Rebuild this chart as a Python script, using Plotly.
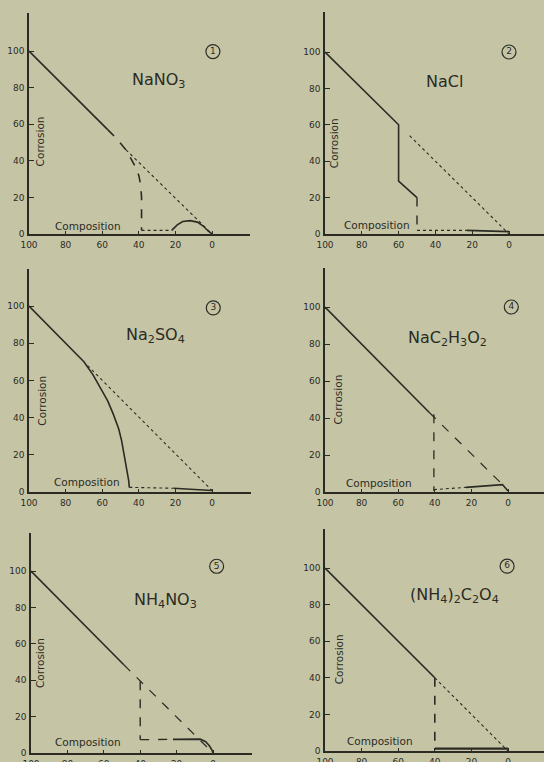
import plotly.graph_objects as go

# ---------------- data ----------------
x_ticks = [100, 80, 60, 40, 20, 0]
y_ticks = [0, 20, 40, 60, 80, 100]
x_tick_labels = ["100", "80", "60", "40", "20", "0"]
y_tick_labels = ["0", "20", "40", "60", "80", "100"]

titles = ["NaNO<sub>3</sub>", "NaCl", "Na<sub>2</sub>SO<sub>4</sub>",
          "NaC<sub>2</sub>H<sub>3</sub>O<sub>2</sub>", "NH<sub>4</sub>NO<sub>3</sub>",
          "(NH<sub>4</sub>)<sub>2</sub>C<sub>2</sub>O<sub>4</sub>"]
numbers = ["1", "2", "3", "4", "5", "6"]
y_title = "Corrosion"
x_title = "Composition"

# Panel 1  NaNO3
p1_solid_x = [100, 57]
p1_solid_y = [100, 57]
p1_curve_x = [57, 52, 47, 44, 42, 40, 39, 38.5, 38.5]
p1_curve_y = [57, 52, 46, 41, 37, 32, 27, 20, 2]
p1_diag_x = [47, 1]
p1_diag_y = [46, 1]
p1_base_x = [38.5, 22]
p1_base_y = [2, 2]
p1_arc_x = [22, 19, 16, 12, 8, 5, 2, 0]
p1_arc_y = [2, 5, 6.8, 7.3, 6.5, 4.5, 1.5, 0]

# Panel 2  NaCl
p2_solid_x = [100, 60, 60, 50]
p2_solid_y = [100, 60, 29, 20]
p2_vert_x = [50, 50]
p2_vert_y = [20, 2]
p2_base_x = [50, 23]
p2_base_y = [2, 2]
p2_tail_x = [23, 0]
p2_tail_y = [2, 1.3]
p2_diag_x = [54, 0]
p2_diag_y = [54, 0]

# Panel 3  Na2SO4
p3_solid_x = [100, 70, 65, 61, 57, 54, 51, 49.4, 47.5, 46.6, 45.5, 45.2]
p3_solid_y = [100, 70, 63, 56, 49, 42, 34, 27.6, 18, 13, 6, 2.5]
p3_diag_x = [68, 0]
p3_diag_y = [68, 0.8]
p3_base_x = [45.2, 21]
p3_base_y = [2.5, 2]
p3_tail_x = [21, 0]
p3_tail_y = [2, 0.8]

# Panel 4  NaC2H3O2
p4_solid_x = [100, 43]
p4_solid_y = [100, 43]
p4_diag_x = [43, 3]
p4_diag_y = [43, 4]
p4_vert_x = [40.5, 40.5]
p4_vert_y = [42, 0.5]
p4_base_x = [40.5, 23]
p4_base_y = [1.3, 2.5]
p4_tail_x = [23, 3, 0]
p4_tail_y = [2.5, 4, 0.5]

# Panel 5  NH4NO3
p5_solid_x = [100, 49]
p5_solid_y = [100, 48.5]
p5_diag_x = [49, 0]
p5_diag_y = [48.5, 0]
p5_vert_x = [40, 40]
p5_vert_y = [39.4, 7.3]
p5_base_x = [40, 22]
p5_base_y = [7.3, 7.5]
p5_tail_x = [22, 7, 4, 2, 0.5, 0]
p5_tail_y = [7.5, 7.6, 6.2, 4, 1.5, 0]

# Panel 6  (NH4)2C2O4
p6_solid_x = [100, 40]
p6_solid_y = [100, 40]
p6_diag_x = [40, 0]
p6_diag_y = [40, 0]
p6_vert_x = [40, 40]
p6_vert_y = [40, 0.5]
p6_base_x = [40, 0]
p6_base_y = [1.3, 1.3]

# ---------------- styling / layout ----------------
W, H = 544, 762
BG = "#c5c5a6"
INK = "#2b2b24"
FONT = "DejaVu Sans"

# per panel pixel geometry: (left px of y-axis, px of x=0, right px, y px of 0, y px of 100, top px)
geom = [
    (29, 212, 250, 234, 51, 13),
    (325, 509, 544, 234, 52, 12),
    (29, 212, 251, 492, 306, 269),
    (325, 508, 544, 492, 307, 268),
    (31, 213, 252, 753, 571, 533),
    (325, 508, 544, 751, 568, 529),
]

title_pos = [(29.5, 84), (35, 84), (31, 84), (33, 83), (26, 84), (29, 85)]
number_pos = [(-0.5, 99.7), (0, 100), (-0.7, 99), (-1.8, 100), (-2, 102.6), (0.5, 101)]
comp_pos = [(68, 4.6), (71.7, 5), (68.5, 5.2), (70.7, 4.8), (68.5, 5.9), (70, 5.3)]
corr_pos = [(94, 50.6), (95, 50), (93, 49), (93.4, 50), (95, 49.5), (92.5, 50)]

fig = go.Figure()

def add_line(i, xs, ys, dash="solid", width=1.6):
    sfx = "" if i == 0 else str(i + 1)
    fig.add_trace(go.Scatter(x=xs, y=ys, mode="lines", xaxis="x" + sfx, yaxis="y" + sfx,
                             line=dict(color=INK, width=width, dash=dash),
                             showlegend=False, hoverinfo="skip"))

# panel 1
add_line(0, p1_solid_x, p1_solid_y)
add_line(0, p1_curve_x, p1_curve_y, "dash", 1.6)
add_line(0, p1_diag_x, p1_diag_y, "dot", 1.1)
add_line(0, p1_base_x, p1_base_y, "dot", 1.1)
add_line(0, p1_arc_x, p1_arc_y)
# panel 2
add_line(1, p2_solid_x, p2_solid_y)
add_line(1, p2_vert_x, p2_vert_y, "dash", 1.4)
add_line(1, p2_base_x, p2_base_y, "dot", 1.1)
add_line(1, p2_tail_x, p2_tail_y)
add_line(1, p2_diag_x, p2_diag_y, "dot", 1.1)
# panel 3
add_line(2, p3_solid_x, p3_solid_y)
add_line(2, p3_diag_x, p3_diag_y, "dot", 1.1)
add_line(2, p3_base_x, p3_base_y, "dot", 1.1)
add_line(2, p3_tail_x, p3_tail_y)
# panel 4
add_line(3, p4_solid_x, p4_solid_y)
add_line(3, p4_diag_x, p4_diag_y, "dash", 1.2)
add_line(3, p4_vert_x, p4_vert_y, "dash", 1.3)
add_line(3, p4_base_x, p4_base_y, "dot", 1.1)
add_line(3, p4_tail_x, p4_tail_y)
# panel 5
add_line(4, p5_solid_x, p5_solid_y)
add_line(4, p5_diag_x, p5_diag_y, "dash", 1.2)
add_line(4, p5_vert_x, p5_vert_y, "dash", 1.4)
add_line(4, p5_base_x, p5_base_y, "dash", 1.3)
add_line(4, p5_tail_x, p5_tail_y)
# panel 6
add_line(5, p6_solid_x, p6_solid_y)
add_line(5, p6_diag_x, p6_diag_y, "dot", 1.1)
add_line(5, p6_vert_x, p6_vert_y, "dash", 1.6)
add_line(5, p6_base_x, p6_base_y, "solid", 2.2)

annotations = []
layout_axes = {}
for i, (lx, zx, rx, zy, hy, ty) in enumerate(geom):
    sfx = "" if i == 0 else str(i + 1)
    sx = (zx - lx) / 100.0
    sy = (zy - hy) / 100.0
    xr = [100, 100 - (rx - lx) / sx]
    yr = [0, (zy - ty) / sy]
    common = dict(showline=True, linecolor=INK, linewidth=1.6, showgrid=False, zeroline=False,
                  ticks="inside", tickcolor=INK, tickwidth=1.2, automargin=False,
                  tickfont=dict(family=FONT, size=9, color=INK), fixedrange=True)
    layout_axes["xaxis" + sfx] = dict(common, domain=[lx / W, min(rx / W, 1)], range=xr,
                                      anchor="y" + sfx, tickvals=x_ticks, ticktext=x_tick_labels,
                                      ticklen=3, ticklabelstandoff=1)
    layout_axes["yaxis" + sfx] = dict(common, domain=[1 - zy / H, 1 - ty / H], range=yr,
                                      anchor="x" + sfx, tickvals=y_ticks, ticktext=y_tick_labels,
                                      ticklen=5, ticklabelstandoff=1)
    xref, yref = "x" + sfx, "y" + sfx
    annotations.append(dict(x=title_pos[i][0], y=title_pos[i][1], xref=xref, yref=yref,
                            text=titles[i], showarrow=False,
                            font=dict(family=FONT, size=16, color=INK)))
    annotations.append(dict(x=comp_pos[i][0], y=comp_pos[i][1], xref=xref, yref=yref,
                            text=x_title, showarrow=False,
                            font=dict(family=FONT, size=10.5, color=INK)))
    annotations.append(dict(x=corr_pos[i][0], y=corr_pos[i][1], xref=xref, yref=yref,
                            text=y_title, showarrow=False, textangle=-90,
                            font=dict(family=FONT, size=10.5, color=INK)))
    fig.add_trace(go.Scatter(x=[number_pos[i][0]], y=[number_pos[i][1]], mode="markers+text",
                             xaxis=xref, yaxis=yref, text=[numbers[i]], textposition="middle center",
                             textfont=dict(family=FONT, size=9, color=INK),
                             marker=dict(symbol="circle-open", size=14, color=INK,
                                         line=dict(width=1.2, color=INK)),
                             showlegend=False, hoverinfo="skip", cliponaxis=False))

fig.update_layout(width=W, height=H, margin=dict(l=0, r=0, t=0, b=0, autoexpand=False),
                  paper_bgcolor=BG, plot_bgcolor=BG, annotations=annotations,
                  showlegend=False, **layout_axes)

fig.write_html("out.html", config={"displayModeBar": False},
               post_script="document.body.style.margin='0';document.body.style.background='%s';" % BG)
